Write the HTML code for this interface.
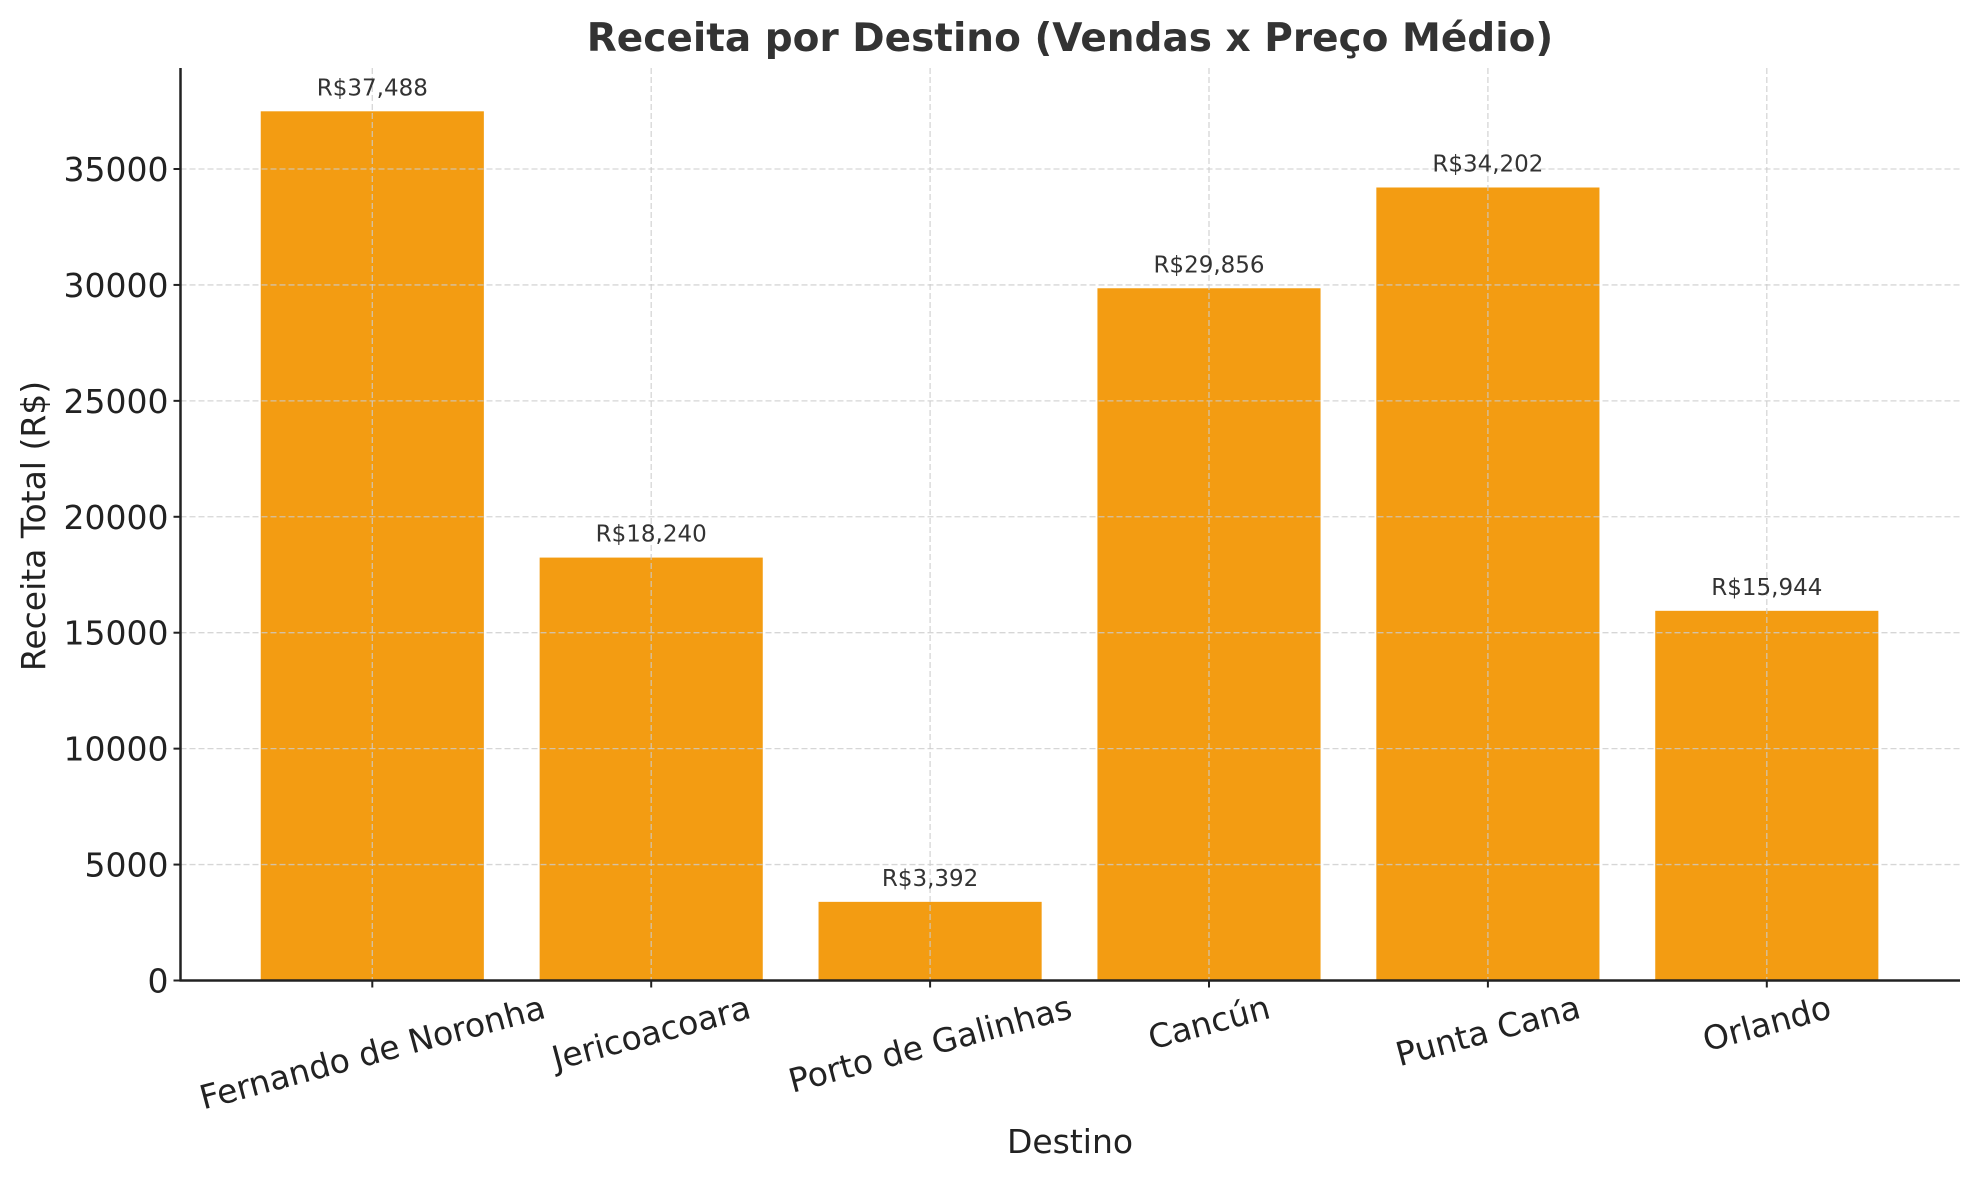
<!DOCTYPE html>
<html><head><meta charset="utf-8"><style>
body{margin:0;background:#fff}
svg{display:block;font-family:"DejaVu Sans","Liberation Sans",sans-serif}
</style></head><body>
<svg id="chart" width="1979" height="1180" viewBox="0 0 1979 1180"></svg>
<script>
const categories=["Fernando de Noronha","Jericoacoara","Porto de Galinhas","Cancún","Punta Cana","Orlando"];
const revenues=[37488,18240,3392,29856,34202,15944];
const valueLabels=["R$37,488","R$18,240","R$3,392","R$29,856","R$34,202","R$15,944"];
const yTicks=[0,5000,10000,15000,20000,25000,30000,35000];

const svg=document.getElementById('chart');
const NS='http://www.w3.org/2000/svg';
const L=180.5,R=1960,T=68,B=980.5;
function y(v){return B-v*(115.93/5000);}
const step=278.9, x0=372.3;
function x(i){return x0+i*step;}
const bw=step*0.8;
function mk(tag,attrs,parent){const e=document.createElementNS(NS,tag);for(const k in attrs)e.setAttribute(k,attrs[k]);(parent||svg).appendChild(e);return e;}

let t=mk('text',{x:1070,y:51,'text-anchor':'middle','font-size':39,'font-weight':'bold',fill:'#333'});
t.textContent='Receita por Destino (Vendas x Preço Médio)';



categories.forEach((c,i)=>{
  const r=mk('rect',{x:x(i)-bw/2,y:y(revenues[i]),width:bw,height:B-y(revenues[i]),fill:'#F39C12'});
  
  
});

yTicks.forEach(v=>{
  const g=mk('line',{x1:L,x2:R,y1:y(v),y2:y(v),stroke:'#ccc','stroke-width':1.3,'stroke-dasharray':'6,3',opacity:0.8});
  
  
});
categories.forEach((c,i)=>{
  const g=mk('line',{x1:x(i),x2:x(i),y1:T,y2:B,stroke:'#ccc','stroke-width':1.3,'stroke-dasharray':'6,3',opacity:0.8});
  
  
});

categories.forEach((c,i)=>{
  const e=mk('text',{x:x(i),y:y(revenues[i])-16,'text-anchor':'middle','font-size':23,fill:'#333'});
  e.textContent=valueLabels[i];
  
  
});

let a=mk('line',{x1:L,x2:L,y1:T,y2:B+1,stroke:'#222','stroke-width':2.5});


a=mk('line',{x1:L-1,x2:R,y1:B,y2:B,stroke:'#222','stroke-width':2.5});



yTicks.forEach(v=>{
  const tk=mk('line',{x1:L-7,x2:L,y1:y(v),y2:y(v),stroke:'#222','stroke-width':2});
  
  
  const e=mk('text',{x:L-12,y:y(v)+12,'text-anchor':'end','font-size':33,fill:'#222'});
  e.textContent=String(v);
  
  
});
const s15=Math.sin(15*Math.PI/180), c15=Math.cos(15*Math.PI/180);
categories.forEach((c,i)=>{
  const tk=mk('line',{x1:x(i),x2:x(i),y1:B,y2:B+7,stroke:'#222','stroke-width':2});
  
  
  const cx=x(i);
  const e=mk('text',{x:cx,y:0,'text-anchor':'middle','dominant-baseline':'central','font-size':33,fill:'#222'});
  e.textContent=c;
  
  
  const w=e.getComputedTextLength();
  const cy=988+(w*s15+38*c15)/2;
  e.setAttribute('y',cy);
  e.setAttribute('transform',`rotate(-15 ${cx} ${cy})`);
});

t=mk('text',{x:1070,y:1153,'text-anchor':'middle','font-size':33,fill:'#222'});
t.textContent='Destino';


t=mk('text',{x:0,y:0,'text-anchor':'middle','font-size':33,fill:'#222',transform:'translate(45 526) rotate(-90)'});
t.textContent='Receita Total (R$)';


</script>
</body></html>
